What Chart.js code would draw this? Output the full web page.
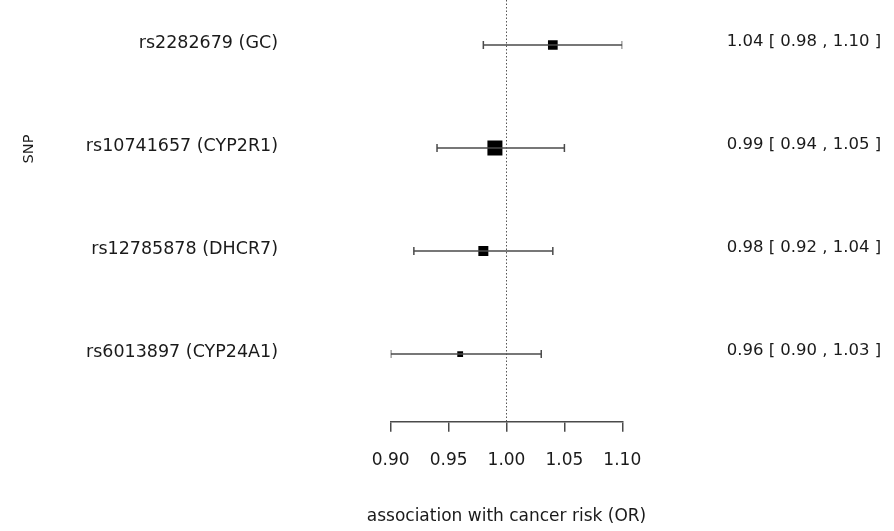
<!DOCTYPE html>
<html>
<head>
<meta charset="utf-8">
<script src="https://cdn.jsdelivr.net/npm/chart.js@4.4.1/dist/chart.umd.min.js"></script>
<style>
    html, body { margin: 0; padding: 0; background: #ffffff; }
    canvas { display: block; }
</style>
</head>
<body>
<canvas id="forestPlot" width="894" height="531"></canvas>
<script>
const snpLabels = ['rs2282679 (GC)', 'rs10741657 (CYP2R1)', 'rs12785878 (DHCR7)', 'rs6013897 (CYP24A1)'];
const orValues = [1.04, 0.99, 0.98, 0.96];
const ciLower = [0.98, 0.94, 0.92, 0.90];
const ciUpper = [1.10, 1.05, 1.04, 1.03];
const rowIndex = [1, 2, 3, 4];
const xTicks = [0.90, 0.95, 1.00, 1.05, 1.10];

(function () {
    const canvas = document.getElementById('forestPlot');
    if (!canvas || typeof Chart === 'undefined') {
        return;
    }

    const fontFamily = '"DejaVu Sans", sans-serif';
    const textColor = '#1a1a1a';
    const lineColor = '#4a4a4a';
    // box side in px, proportional to study weight
    const boxSide = [9.7, 15, 10, 5.8];
    const yMin = 0.563;
    const yMax = 4.657;

    const estimateLabels = orValues.map(function (v, i) {
        return `${v.toFixed(2)} [ ${ciLower[i].toFixed(2)} , ${ciUpper[i].toFixed(2)} ]`;
    });

    const datasets = [];

    // dotted reference line at OR = 1
    datasets.push({
        type: 'line',
        data: [{ x: 1, y: yMin }, { x: 1, y: yMax }],
        borderColor: '#555555',
        borderWidth: 1,
        borderDash: [1.5, 2],
        pointRadius: 0,
        showLine: true,
        clip: false
    });

    rowIndex.forEach(function (row, i) {
        datasets.push({
            type: 'line',
            data: [{ x: ciLower[i], y: row }, { x: ciUpper[i], y: row }],
            borderColor: lineColor,
            borderWidth: 1.5,
            showLine: true,
            pointStyle: 'line',
            pointRotation: 90,
            pointRadius: 4,
            pointBorderWidth: 1.5,
            pointBorderColor: lineColor
        });
    });

    datasets.push({
        type: 'scatter',
        data: rowIndex.map(function (row, i) {
            return { x: orValues[i], y: row };
        }),
        pointStyle: 'rect',
        pointRadius: boxSide.map(function (s) { return s / Math.SQRT2; }),
        backgroundColor: '#000000',
        pointBorderWidth: 0,
        borderColor: '#000000'
    });

    // axis titles drawn by hand: the built-in ones get squeezed to the axis width
    const axisTitles = {
        id: 'axisTitles',
        afterDraw: function (chart) {
            const ctx = chart.ctx;
            const area = chart.chartArea;
            ctx.save();
            ctx.fillStyle = textColor;
            ctx.textAlign = 'center';
            ctx.textBaseline = 'middle';

            ctx.font = '17px ' + fontFamily;
            ctx.fillText('association with cancer risk (OR)', (area.left + area.right) / 2, 516.7);

            ctx.translate(29, 149);
            ctx.rotate(-Math.PI / 2);
            ctx.font = '14.5px ' + fontFamily;
            ctx.fillText('SNP', 0, 0);
            ctx.restore();
        }
    };

    function rowTicks(scale) {
        scale.ticks = rowIndex.map(function (v) { return { value: v }; });
    }

    function fixedWidth(width) {
        return function (scale) {
            scale.width = width;
            scale.paddingTop = 0;
            scale.paddingBottom = 0;
        };
    }

    new Chart(canvas, {
        type: 'scatter',
        data: { datasets: datasets },
        plugins: [axisTitles],
        options: {
            responsive: false,
            animation: false,
            layout: { padding: 0, autoPadding: false },
            plugins: {
                legend: { display: false },
                tooltip: { enabled: false }
            },
            scales: {
                x: {
                    type: 'linear',
                    min: 0.9,
                    max: 1.1,
                    afterBuildTicks: function (scale) {
                        scale.ticks = xTicks.map(function (v) { return { value: v }; });
                    },
                    afterFit: function (scale) {
                        scale.height = 109.3;
                    },
                    border: { display: true, color: lineColor, width: 1.5 },
                    grid: {
                        drawOnChartArea: false,
                        drawTicks: true,
                        tickLength: 10,
                        color: lineColor,
                        lineWidth: 1.5
                    },
                    ticks: {
                        padding: 19,
                        color: textColor,
                        font: { family: fontFamily, size: 17 },
                        maxRotation: 0,
                        callback: function (value) {
                            return Number(value).toFixed(2);
                        }
                    }
                },
                y: {
                    type: 'linear',
                    position: 'left',
                    reverse: true,
                    min: yMin,
                    max: yMax,
                    afterBuildTicks: rowTicks,
                    afterFit: fixedWidth(390.7),
                    border: { display: false },
                    grid: { display: false, drawTicks: false },
                    ticks: {
                        padding: 112.7,
                        labelOffset: -2,
                        color: textColor,
                        font: { family: fontFamily, size: 17.5 },
                        callback: function (value, index) {
                            return snpLabels[index];
                        }
                    }
                },
                y2: {
                    type: 'linear',
                    position: 'right',
                    reverse: true,
                    min: yMin,
                    max: yMax,
                    afterBuildTicks: rowTicks,
                    afterFit: fixedWidth(271.7),
                    border: { display: false },
                    grid: { display: false, drawTicks: false },
                    ticks: {
                        padding: 104.4,
                        labelOffset: -3,
                        color: textColor,
                        font: { family: fontFamily, size: 16.5 },
                        callback: function (value, index) {
                            return estimateLabels[index];
                        }
                    }
                }
            }
        }
    });
})();
</script>
</body>
</html>
